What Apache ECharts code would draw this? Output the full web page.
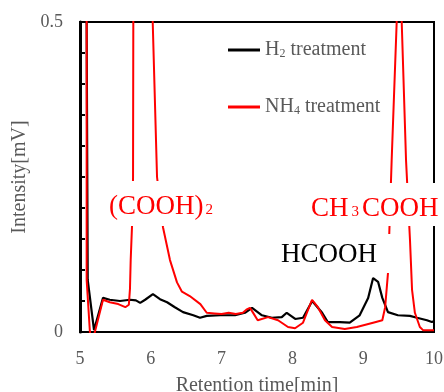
<!DOCTYPE html>
<html><head><meta charset="utf-8">
<script src="https://cdn.jsdelivr.net/npm/echarts@6/dist/echarts.min.js"></script>
<style>html,body{margin:0;padding:0;background:#fff}#c{width:444px;height:392px}</style>
</head><body><div id="c"></div>
<script>
// ---- data ----
const xTicks = [5, 6, 7, 8, 9, 10];
const yTickLabels = ['0', '0.5'];
const seriesNames = ['H2 treatment', 'NH4 treatment'];

const h2Time = [5.0, 5.09, 5.109, 5.198, 5.325, 5.42, 5.565, 5.706, 5.79, 5.85, 5.92, 6.03, 6.13, 6.23, 6.34, 6.455, 6.6, 6.695, 6.79, 6.98, 7.19, 7.33, 7.43, 7.57, 7.71, 7.85, 7.92, 8.04, 8.15, 8.28, 8.42, 8.50, 8.67, 8.81, 8.95, 9.07, 9.14, 9.21, 9.27, 9.35, 9.49, 9.66, 9.76, 9.90, 9.97, 10.0];
const h2Intensity = [0.8, 0.6, 0.084, 0.003, 0.055, 0.052, 0.050, 0.052, 0.051, 0.047, 0.052, 0.061, 0.053, 0.048, 0.040, 0.032, 0.027, 0.023, 0.026, 0.027, 0.027, 0.031, 0.039, 0.027, 0.023, 0.024, 0.031, 0.021, 0.023, 0.050, 0.031, 0.016, 0.016, 0.015, 0.027, 0.055, 0.087, 0.081, 0.055, 0.032, 0.027, 0.026, 0.023, 0.019, 0.016, 0.018];

const nh4Time = [5.0, 5.094, 5.094, 5.14, 5.17, 5.21, 5.325, 5.42, 5.54, 5.64, 5.69, 5.706, 5.716, 5.734, 5.749, 5.753, 5.76, 6.02, 6.027, 6.088, 6.172, 6.271, 6.37, 6.44, 6.55, 6.70, 6.79, 6.9, 7.0, 7.1, 7.2, 7.3, 7.35, 7.4, 7.45, 7.51, 7.655, 7.797, 7.938, 8.037, 8.15, 8.277, 8.36, 8.46, 8.56, 8.74, 8.91, 9.14, 9.27, 9.31, 9.35, 9.402, 9.473, 9.48, 9.535, 9.544, 9.605, 9.661, 9.69, 9.73, 9.80, 9.845, 9.986, 10.0];
const nh4Intensity = [1.0, 0.6, 0.084, 0.0, -0.02, 0.0, 0.052, 0.048, 0.045, 0.040, 0.044, 0.07, 0.116, 0.169, 0.248, 0.5, 0.7, 0.7, 0.5, 0.25, 0.169, 0.116, 0.080, 0.065, 0.058, 0.045, 0.031, 0.030, 0.029, 0.031, 0.029, 0.031, 0.036, 0.039, 0.030, 0.019, 0.024, 0.019, 0.008, 0.006, 0.015, 0.052, 0.040, 0.019, 0.008, 0.005, 0.008, 0.015, 0.019, 0.040, 0.095, 0.277, 0.5, 0.7, 0.7, 0.5, 0.277, 0.148, 0.068, 0.031, 0.008, 0.003, 0.003, 0.003];

const h2Data = h2Time.map((t, i) => [t, h2Intensity[i]]);
const nh4Data = nh4Time.map((t, i) => [t, nh4Intensity[i]]);

const serif = 'Liberation Serif';
const gray = '#595959';

const chart = echarts.init(document.getElementById('c'));
chart.setOption({
  animation: false,
  backgroundColor: '#fff',
  grid: { left: 80, right: 10, top: 22, bottom: 60, show: true, borderColor: '#000', borderWidth: 2,
    backgroundColor: 'transparent', containLabel: false, outerBoundsMode: 'none' },
  legend: {
    orient: 'vertical', left: 228, top: 40, padding: 0,
    itemWidth: 32, itemHeight: 3, icon: 'rect', itemGap: 37,
    data: seriesNames,
    formatter: function (n) {
      return n === seriesNames[0] ? '{a|H}{s|2}{a| treatment}' : '{a|NH}{s|4}{a| treatment}';
    },
    textStyle: {
      color: gray, fontFamily: serif, fontSize: 20, lineHeight: 20,
      rich: {
        a: { color: gray, fontFamily: serif, fontSize: 20, lineHeight: 20 },
        s: { color: gray, fontFamily: serif, fontSize: 12, lineHeight: 20, verticalAlign: 'bottom', padding: [6, 0, 0, 0] }
      }
    }
  },
  xAxis: {
    type: 'value', min: 5, max: 10, interval: 1,
    name: 'Retention time[min]', nameLocation: 'middle', nameGap: 44,
    nameTextStyle: { color: gray, fontFamily: serif, fontSize: 20 },
    axisLine: { show: true, lineStyle: { color: '#000', width: 2 } },
    axisTick: { show: false },
    splitLine: { show: false },
    axisLabel: { color: gray, fontFamily: serif, fontSize: 18, margin: 18,
      formatter: v => (xTicks.indexOf(v) >= 0 ? String(v) : '') }
  },
  yAxis: {
    type: 'value', min: 0, max: 0.5, interval: 0.05,
    name: 'Intensity[mV]', nameLocation: 'middle', nameGap: 42,
    nameTextStyle: { color: gray, fontFamily: serif, fontSize: 20 },
    axisLine: { show: true, lineStyle: { color: '#000', width: 3 } },
    axisTick: { show: true, inside: true, length: 5, lineStyle: { color: '#000', width: 2 } },
    splitLine: { show: false },
    axisLabel: { color: gray, fontFamily: serif, fontSize: 18, margin: 17,
      formatter: v => (Math.abs(v) < 1e-9 ? yTickLabels[0] : (Math.abs(v - 0.5) < 1e-9 ? yTickLabels[1] : '')) }
  },
  series: [
    { name: seriesNames[0], type: 'line', data: h2Data, symbol: 'none', clip: true,
      lineStyle: { color: '#000', width: 2.2 }, itemStyle: { color: '#000' }, z: 3 },
    { name: seriesNames[1], type: 'line', data: nh4Data, symbol: 'none', clip: true,
      lineStyle: { color: '#ff0000', width: 2 }, itemStyle: { color: '#ff0000' }, z: 4 }
  ],
  graphic: [
    { type: 'rect', z: 100, shape: { x: 104, y: 181, width: 118, height: 45 }, style: { fill: '#fff' } },
    { type: 'text', z: 101, left: 109, top: 193,
      style: { text: '{a|(COOH)}{s|2}', rich: {
        a: { fill: '#ff0000', fontFamily: serif, fontSize: 27, lineHeight: 30 },
        s: { fill: '#ff0000', fontFamily: serif, fontSize: 15, lineHeight: 30, padding: [7, 0, 0, 2] } } } },
    { type: 'rect', z: 100, shape: { x: 278, y: 234, width: 115, height: 39 }, style: { fill: '#fff' } },
    { type: 'text', z: 101, left: 281, top: 241,
      style: { text: 'HCOOH', fill: '#000', fontFamily: serif, fontSize: 27 } },
    { type: 'rect', z: 100, shape: { x: 308, y: 183, width: 136, height: 43 }, style: { fill: '#fff' } },
    { type: 'text', z: 101, left: 311, top: 195,
      style: { text: '{a|CH}{s|3}{a|COOH}', rich: {
        a: { fill: '#ff0000', fontFamily: serif, fontSize: 27, lineHeight: 30 },
        s: { fill: '#ff0000', fontFamily: serif, fontSize: 15, lineHeight: 30, padding: [7, 3, 0, 3] } } } }
  ]
});
</script></body></html>
